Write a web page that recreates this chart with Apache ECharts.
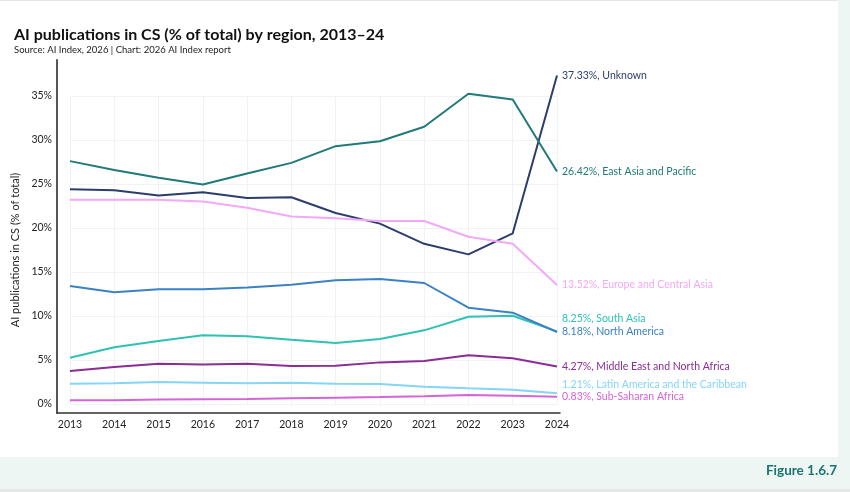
<!DOCTYPE html>
<html>
<head>
<meta charset="utf-8">
<script src="https://cdn.jsdelivr.net/npm/echarts@6/dist/echarts.min.js"></script>
<style>
  html, body { margin: 0; padding: 0; width: 850px; height: 492px; background: #edf6f2; overflow: hidden; }
  #card { position: absolute; left: 0; top: 0; width: 838px; height: 457px; background: #ffffff; border-top: 1px solid #e6e6e6; box-sizing: border-box; }
  #bottomline { position: absolute; left: 0; top: 489px; width: 850px; height: 3px; background: #e4e7e6; }
  #chart { position: absolute; left: 0; top: 0; width: 850px; height: 492px; }
</style>
</head>
<body>
<div id="card"></div>
<div id="bottomline"></div>
<div id="chart"></div>
<script>
const years = ['2013','2014','2015','2016','2017','2018','2019','2020','2021','2022','2023','2024'];
const yTicks = [0, 5, 10, 15, 20, 25, 30, 35];

const unknown      = [24.4, 24.3, 23.7, 24.05, 23.4, 23.5, 21.7, 20.5, 18.2, 17.0, 19.4, 37.33];
const eastAsia     = [27.6, 26.6, 25.7, 24.95, 26.2, 27.4, 29.3, 29.85, 31.5, 35.25, 34.6, 26.42];
const europe       = [23.2, 23.2, 23.2, 23.0, 22.3, 21.3, 21.1, 20.8, 20.8, 19.0, 18.2, 13.52];
const southAsia    = [5.26, 6.44, 7.16, 7.8, 7.69, 7.3, 6.93, 7.39, 8.37, 9.92, 10.03, 8.25];
const northAmerica = [13.4, 12.7, 13.05, 13.05, 13.25, 13.55, 14.05, 14.2, 13.75, 10.95, 10.38, 8.18];
const mena         = [3.75, 4.2, 4.58, 4.5, 4.58, 4.32, 4.36, 4.73, 4.89, 5.53, 5.19, 4.27];
const latam        = [2.31, 2.35, 2.5, 2.42, 2.35, 2.42, 2.31, 2.27, 1.97, 1.78, 1.63, 1.21];
const ssa          = [0.42, 0.42, 0.5, 0.53, 0.57, 0.64, 0.72, 0.79, 0.87, 1.02, 0.94, 0.83];

const FONT = 'Lato, "Noto Sans", sans-serif';

const seriesDefs = [
  { name: 'Unknown', data: unknown, color: '#2c3d6c', dy: 0 },
  { name: 'East Asia and Pacific', data: eastAsia, color: '#1f7a78', dy: 0 },
  { name: 'Europe and Central Asia', data: europe, color: '#f2a9f7', dy: 0 },
  { name: 'South Asia', data: southAsia, color: '#2ec2b4', dy: -13 },
  { name: 'North America', data: northAmerica, color: '#3a82c4', dy: 0 },
  { name: 'Middle East and North Africa', data: mena, color: '#8c2c97', dy: 0 },
  { name: 'Latin America and the Caribbean', data: latam, color: '#84d5f6', dy: -9 },
  { name: 'Sub-Saharan Africa', data: ssa, color: '#d464d8', dy: 0 }
];

const chart = echarts.init(document.getElementById('chart'), null, { renderer: 'canvas' });

const option = {
  backgroundColor: 'transparent',
  animation: false,
  title: {
    text: 'AI publications in CS (% of total) by region, 2013–24',
    subtext: 'Source: AI Index, 2026 | Chart: 2026 AI Index report',
    left: 9,
    top: 22,
    itemGap: 2,
    textStyle: { fontFamily: FONT, fontSize: 16, fontWeight: 'bold', color: '#111111' },
    subtextStyle: { fontFamily: FONT, fontSize: 9.5, color: '#222222' }
  },
  graphic: [{
    type: 'text',
    right: 13,
    top: 464,
    style: { text: 'Figure 1.6.7', font: 'bold 13.5px ' + FONT, fill: '#1b726f' }
  }],
  grid: [
    { left: 70, right: 293, top: 96, bottom: 88, containLabel: false },
    { left: 57, right: 290, top: 60, bottom: 79, containLabel: false }
  ],
  xAxis: [
    {
      type: 'category', gridIndex: 0, data: years, boundaryGap: false,
      axisLine: { show: false }, axisTick: { show: false },
      axisLabel: { margin: 15, fontFamily: FONT, fontSize: 10.5, color: '#222222' },
      splitLine: { show: true, lineStyle: { color: '#f1f2f2', width: 1 } }
    },
    {
      type: 'value', gridIndex: 1, min: 0, max: 1,
      axisLine: { show: true, lineStyle: { color: '#333333', width: 1.5 } },
      axisTick: { show: false }, axisLabel: { show: false }, splitLine: { show: false }
    }
  ],
  yAxis: [
    {
      type: 'value', gridIndex: 0, min: 0, max: 35, interval: 5,
      axisLine: { show: false }, axisTick: { show: false },
      axisLabel: { margin: 18, formatter: '{value}%', fontFamily: FONT, fontSize: 10.5, color: '#222222' },
      splitLine: { show: true, lineStyle: { color: '#f1f2f2', width: 1 } },
      name: 'AI publications in CS (% of total)',
      nameLocation: 'middle',
      nameGap: 45,
      nameTextStyle: { fontFamily: FONT, fontSize: 11, color: '#222222' }
    },
    {
      type: 'value', gridIndex: 1, min: 0, max: 1,
      axisLine: { show: true, lineStyle: { color: '#555555', width: 2 } },
      axisTick: { show: false }, axisLabel: { show: false }, splitLine: { show: false }
    }
  ],
  series: seriesDefs.map(s => ({
    type: 'line',
    name: s.name,
    xAxisIndex: 0,
    yAxisIndex: 0,
    data: s.data,
    clip: false,
    showSymbol: false,
    symbol: 'none',
    lineStyle: { color: s.color, width: 2 },
    itemStyle: { color: s.color },
    endLabel: {
      show: true,
      distance: 5,
      offset: [0, s.dy],
      color: s.color,
      fontFamily: FONT,
      fontSize: 10.5,
      formatter: p => p.value.toFixed(2) + '%, ' + s.name
    }
  }))
};

chart.setOption(option);
</script>
</body>
</html>
